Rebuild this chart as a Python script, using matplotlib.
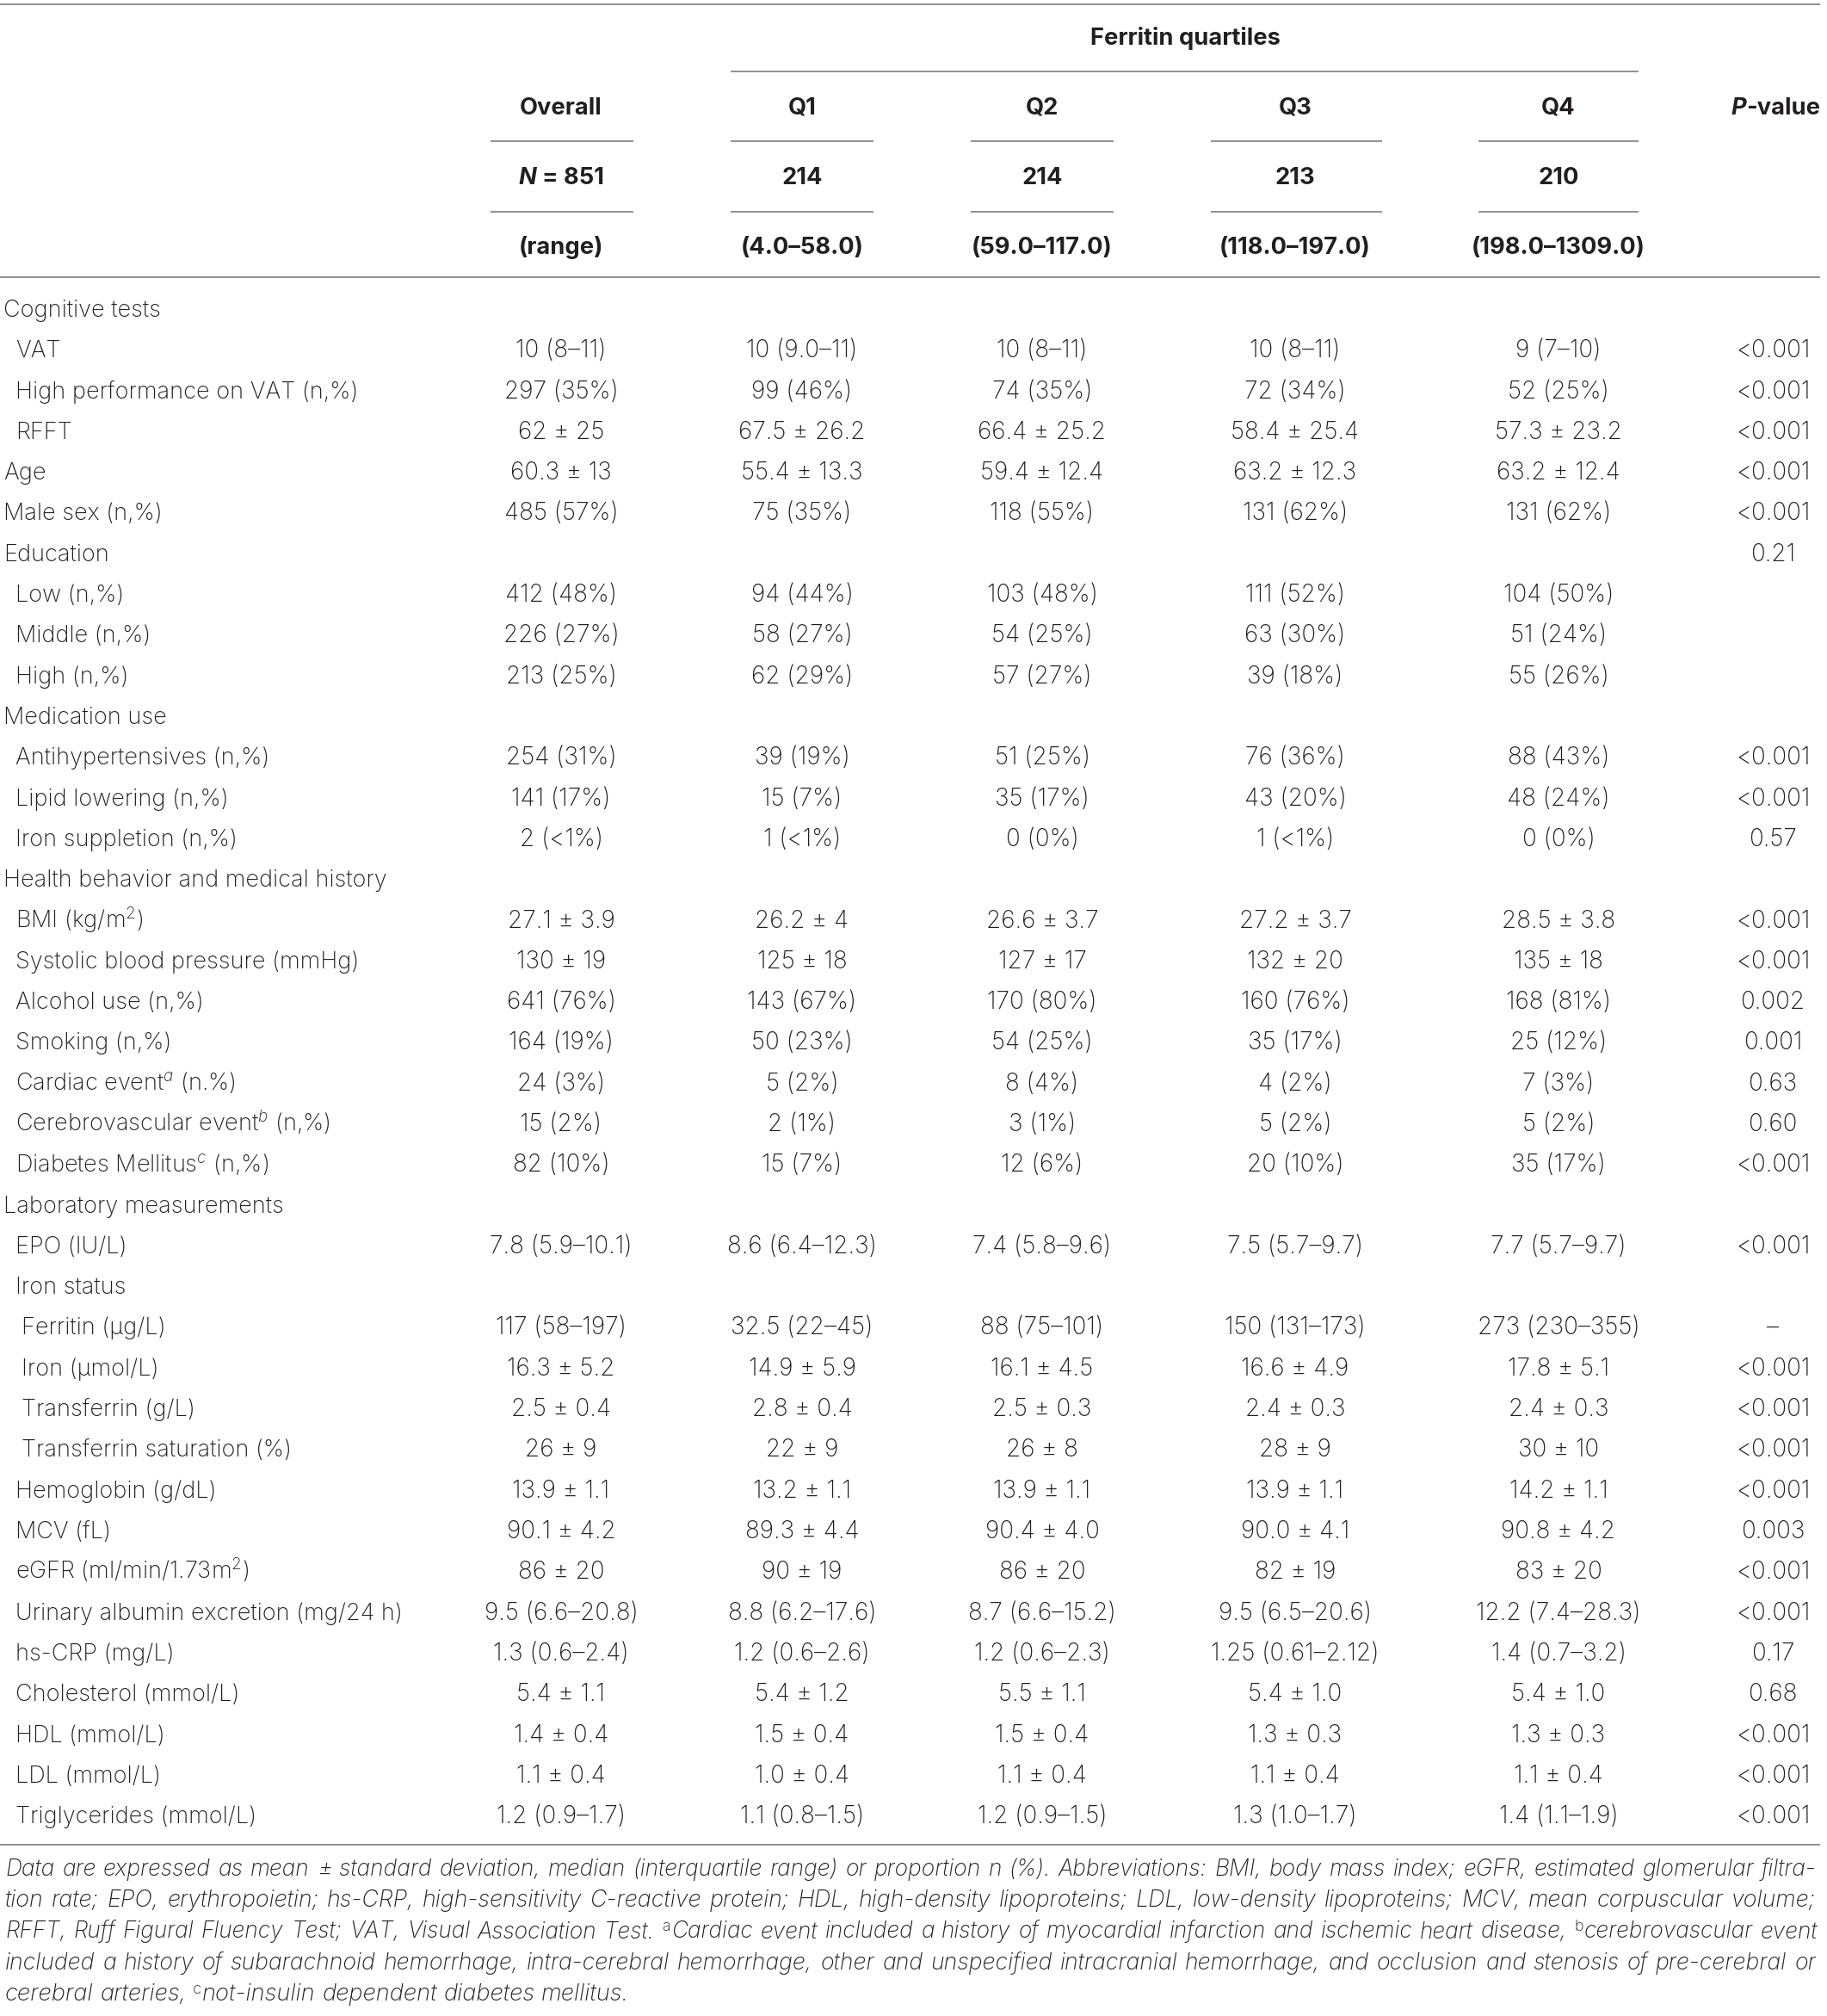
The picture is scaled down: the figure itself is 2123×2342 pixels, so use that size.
import matplotlib
matplotlib.use("Agg")
import matplotlib.pyplot as plt

# ---------------- data ----------------
col_names = ["Overall", "Q1", "Q2", "Q3", "Q4"]
col_counts = ["851", "214", "214", "213", "210"]
col_ranges = ["(range)", "(4.0–58.0)", "(59.0–117.0)", "(118.0–197.0)", "(198.0–1309.0)"]

row_labels = [
    "Cognitive tests", "VAT", "High performance on VAT (n,%)", "RFFT", "Age",
    "Male sex (n,%)", "Education", "Low (n,%)", "Middle (n,%)", "High (n,%)",
    "Medication use", "Antihypertensives (n,%)", "Lipid lowering (n,%)",
    "Iron suppletion (n,%)", "Health behavior and medical history",
    "BMI (kg/m$^2$)", "Systolic blood pressure (mmHg)", "Alcohol use (n,%)",
    "Smoking (n,%)", "Cardiac event$^{a}$ (n.%)", "Cerebrovascular event$^{b}$ (n,%)",
    "Diabetes Mellitus$^{c}$ (n,%)", "Laboratory measurements", "EPO (IU/L)",
    "Iron status", "Ferritin (μg/L)", "Iron (μmol/L)", "Transferrin (g/L)",
    "Transferrin saturation (%)", "Hemoglobin (g/dL)", "MCV (fL)",
    "eGFR (ml/min/1.73m$^2$)", "Urinary albumin excretion (mg/24 h)",
    "hs-CRP (mg/L)", "Cholesterol (mmol/L)", "HDL (mmol/L)", "LDL (mmol/L)",
    "Triglycerides (mmol/L)",
]
row_levels = [0, 1, 1, 1, 0, 0, 0, 1, 1, 1, 0, 1, 1, 1, 0, 1, 1, 1, 1, 1, 1, 1,
              0, 1, 1, 2, 2, 2, 2, 1, 1, 1, 1, 1, 1, 1, 1, 1]

overall = ["", "10 (8–11)", "297 (35%)", "62 ± 25", "60.3 ± 13", "485 (57%)", "",
           "412 (48%)", "226 (27%)", "213 (25%)", "", "254 (31%)", "141 (17%)",
           "2 (<1%)", "", "27.1 ± 3.9", "130 ± 19", "641 (76%)", "164 (19%)",
           "24 (3%)", "15 (2%)", "82 (10%)", "", "7.8 (5.9–10.1)", "",
           "117 (58–197)", "16.3 ± 5.2", "2.5 ± 0.4", "26 ± 9", "13.9 ± 1.1",
           "90.1 ± 4.2", "86 ± 20", "9.5 (6.6–20.8)", "1.3 (0.6–2.4)",
           "5.4 ± 1.1", "1.4 ± 0.4", "1.1 ± 0.4", "1.2 (0.9–1.7)"]
q1 = ["", "10 (9.0–11)", "99 (46%)", "67.5 ± 26.2", "55.4 ± 13.3", "75 (35%)", "",
      "94 (44%)", "58 (27%)", "62 (29%)", "", "39 (19%)", "15 (7%)", "1 (<1%)", "",
      "26.2 ± 4", "125 ± 18", "143 (67%)", "50 (23%)", "5 (2%)", "2 (1%)",
      "15 (7%)", "", "8.6 (6.4–12.3)", "", "32.5 (22–45)", "14.9 ± 5.9",
      "2.8 ± 0.4", "22 ± 9", "13.2 ± 1.1", "89.3 ± 4.4", "90 ± 19",
      "8.8 (6.2–17.6)", "1.2 (0.6–2.6)", "5.4 ± 1.2", "1.5 ± 0.4", "1.0 ± 0.4",
      "1.1 (0.8–1.5)"]
q2 = ["", "10 (8–11)", "74 (35%)", "66.4 ± 25.2", "59.4 ± 12.4", "118 (55%)", "",
      "103 (48%)", "54 (25%)", "57 (27%)", "", "51 (25%)", "35 (17%)", "0 (0%)", "",
      "26.6 ± 3.7", "127 ± 17", "170 (80%)", "54 (25%)", "8 (4%)", "3 (1%)",
      "12 (6%)", "", "7.4 (5.8–9.6)", "", "88 (75–101)", "16.1 ± 4.5",
      "2.5 ± 0.3", "26 ± 8", "13.9 ± 1.1", "90.4 ± 4.0", "86 ± 20",
      "8.7 (6.6–15.2)", "1.2 (0.6–2.3)", "5.5 ± 1.1", "1.5 ± 0.4", "1.1 ± 0.4",
      "1.2 (0.9–1.5)"]
q3 = ["", "10 (8–11)", "72 (34%)", "58.4 ± 25.4", "63.2 ± 12.3", "131 (62%)", "",
      "111 (52%)", "63 (30%)", "39 (18%)", "", "76 (36%)", "43 (20%)", "1 (<1%)", "",
      "27.2 ± 3.7", "132 ± 20", "160 (76%)", "35 (17%)", "4 (2%)", "5 (2%)",
      "20 (10%)", "", "7.5 (5.7–9.7)", "", "150 (131–173)", "16.6 ± 4.9",
      "2.4 ± 0.3", "28 ± 9", "13.9 ± 1.1", "90.0 ± 4.1", "82 ± 19",
      "9.5 (6.5–20.6)", "1.25 (0.61–2.12)", "5.4 ± 1.0", "1.3 ± 0.3", "1.1 ± 0.4",
      "1.3 (1.0–1.7)"]
q4 = ["", "9 (7–10)", "52 (25%)", "57.3 ± 23.2", "63.2 ± 12.4", "131 (62%)", "",
      "104 (50%)", "51 (24%)", "55 (26%)", "", "88 (43%)", "48 (24%)", "0 (0%)", "",
      "28.5 ± 3.8", "135 ± 18", "168 (81%)", "25 (12%)", "7 (3%)", "5 (2%)",
      "35 (17%)", "", "7.7 (5.7–9.7)", "", "273 (230–355)", "17.8 ± 5.1",
      "2.4 ± 0.3", "30 ± 10", "14.2 ± 1.1", "90.8 ± 4.2", "83 ± 20",
      "12.2 (7.4–28.3)", "1.4 (0.7–3.2)", "5.4 ± 1.0", "1.3 ± 0.3", "1.1 ± 0.4",
      "1.4 (1.1–1.9)"]
pvalues = ["", "<0.001", "<0.001", "<0.001", "<0.001", "<0.001", "0.21", "", "", "",
           "", "<0.001", "<0.001", "0.57", "", "<0.001", "<0.001", "0.002", "0.001",
           "0.63", "0.60", "<0.001", "", "<0.001", "", "–", "<0.001", "<0.001",
           "<0.001", "<0.001", "0.003", "<0.001", "<0.001", "0.17", "0.68",
           "<0.001", "<0.001", "<0.001"]

footnote_lines = [
    "Data are expressed as mean ± standard deviation, median (interquartile range) or proportion n (%). Abbreviations: BMI, body mass index; eGFR, estimated glomerular filtra-",
    "tion rate; EPO, erythropoietin; hs-CRP, high-sensitivity C-reactive protein; HDL, high-density lipoproteins; LDL, low-density lipoproteins; MCV, mean corpuscular volume;",
    "RFFT, Ruff Figural Fluency Test; VAT, Visual Association Test. {a}Cardiac event included a history of myocardial infarction and ischemic heart disease, {b}cerebrovascular event",
    "included a history of subarachnoid hemorrhage, intra-cerebral hemorrhage, other and unspecified intracranial hemorrhage, and occlusion and stenosis of pre-cerebral or",
    "cerebral arteries, {c}not-insulin dependent diabetes mellitus.",
]

# ---------------- styling ----------------
W, H, DPI = 2123, 2342, 100
FAMILY = ['Inter', 'DejaVu Sans']
plt.rcParams['font.family'] = FAMILY
plt.rcParams['mathtext.fontset'] = 'custom'
plt.rcParams['mathtext.rm'] = 'Inter:light'
plt.rcParams['mathtext.it'] = 'Inter:italic:light'
plt.rcParams['mathtext.bf'] = 'Inter:bold'

TEXT = '#231f20'
RULE = '#7d7d7d'
LW = 1.2

col_x = [652, 932, 1211, 1505, 1811]
p_x = 2060
p_head_x = 2063
underline_span = [(570, 736), (849, 1015), (1128, 1294), (1407, 1606), (1718, 1904)]
indent = {0: 4, 1: 18, 2: 25}
row0, row_step, cap_off = 358, 47.3, 10

fig = plt.figure(figsize=(W / DPI, H / DPI), dpi=DPI)
ax = fig.add_axes([0, 0, 1, 1])
ax.set_xlim(0, W)
ax.set_ylim(H, 0)
ax.axis('off')
renderer = fig.canvas.get_renderer()

LIGHT = dict(fontweight='light', color=TEXT)
BOLDW = dict(fontweight='bold', color=TEXT)


def wid(t):
    return t.get_window_extent(renderer).width


def fit_size(samples, kw, base=20.0):
    # samples: list of (string, width in px measured on the reference)
    got = 0.0
    want = 0.0
    for s, target in samples:
        t = ax.text(0, 0, s, fontsize=base, **kw)
        got += wid(t)
        want += target
        t.remove()
    return base * want / got


FS_LABEL = fit_size([("Health behavior and medical history", 446),
                     ("Systolic blood pressure (mmHg)", 397),
                     ("Alcohol use (n,%)", 215),
                     ("Laboratory measurements", 328),
                     ("Transferrin saturation (%)", 308)], LIGHT)
FS_VAL = fit_size([("57.3 ± 23.2", 151), ("12.2 (7.4–28.3)", 188),
                   ("273 (230–355)", 182), ("<0.001", 87), ("30 ± 10", 103),
                   ("52 (25%)", 111), ("131 (62%)", 127)], LIGHT)
FS_HEAD = fit_size([("(198.0–1309.0)", 196), ("Ferritin quartiles", 226),
                    ("Overall", 96), ("(118.0–197.0)", 176)], BOLDW)

LABEL = dict(fontsize=FS_LABEL, **LIGHT)
VAL = dict(fontsize=FS_VAL, **LIGHT)
BOLD = dict(fontsize=FS_HEAD, **BOLDW)
BOLDIT = dict(fontsize=FS_HEAD, fontstyle='italic', **BOLDW)


def space_width(kw):
    a = ax.text(0, 0, "a a", **kw)
    b = ax.text(0, 0, "aa", **kw)
    s = wid(a) - wid(b)
    a.remove(); b.remove()
    return s


def runs(x, y, parts, ha='center'):
    objs = [ax.text(0, y, s, va='baseline', ha='left', **kw) for s, kw in parts]
    ws = [wid(o) for o in objs]
    start = x - sum(ws) / 2 if ha == 'center' else x
    for o, w in zip(objs, ws):
        o.set_x(start)
        start += w


def hline(y, x0, x1):
    ax.plot([x0, x1], [y, y], color=RULE, lw=LW, solid_capstyle='butt')


# ---------------- header ----------------
hline(5, 0, 2115)
ax.text(1377, 52, "Ferritin quartiles", ha='center', va='baseline', **BOLD)
hline(83, 849, 1904)
for x, name, n, rng, (u0, u1) in zip(col_x, col_names, col_counts, col_ranges, underline_span):
    ax.text(x, 133, name, ha='center', va='baseline', **BOLD)
    hline(164, u0, u1)
    if name == "Overall":
        sp = space_width(BOLD)
        a = ax.text(0, 214, "N", va='baseline', ha='left', **BOLDIT)
        b = ax.text(0, 214, "= " + n, va='baseline', ha='left', **BOLD)
        wa, wb = wid(a), wid(b)
        start = x - (wa + sp + wb) / 2
        a.set_x(start)
        b.set_x(start + wa + sp)
    else:
        ax.text(x, 214, n, ha='center', va='baseline', **BOLD)
    hline(246, u0, u1)
    ax.text(x, 295, rng, ha='center', va='baseline', **BOLD)
runs(p_head_x, 133, [("P", BOLDIT), ("-value", BOLD)])
hline(322, 0, 2115)

# ---------------- body ----------------
columns = [overall, q1, q2, q3, q4]
for i, (lab, lev) in enumerate(zip(row_labels, row_levels)):
    yb = row0 + i * row_step + cap_off
    ax.text(indent[lev], yb, lab, ha='left', va='baseline', **LABEL)
    for x, col in zip(col_x, columns):
        if col[i]:
            ax.text(x, yb, col[i], ha='center', va='baseline', **VAL)
    if pvalues[i]:
        ax.text(p_x, yb, pvalues[i], ha='center', va='baseline', **VAL)

hline(2143, 0, 2115)

# ---------------- footnote (justified) ----------------
x0, x1 = 6, 2110


def note_styles(fs):
    note = dict(fontsize=fs, fontweight='light', fontstyle='italic', color=TEXT)
    sup = dict(fontsize=fs * 0.68, fontweight='light', color=TEXT)
    return note, sup


def build_line(line, yb, note, sup):
    items = []
    for w in line.split(" "):
        parts = []
        if w.startswith("{") and w[2] == "}":
            parts.append(ax.text(0, yb - 0.42 * note['fontsize'], w[1],
                                 va='baseline', ha='left', **sup))
            w = w[3:]
        parts.append(ax.text(0, yb, w, va='baseline', ha='left', **note))
        items.append(parts)
    return items


def natural_width(line, fs):
    note, sup = note_styles(fs)
    sp = space_width(note)
    items = build_line(line, 0, note, sup)
    tot = sum(wid(p) for parts in items for p in parts) + sp * (len(items) - 1)
    for parts in items:
        for p in parts:
            p.remove()
    return tot


# base footnote size: the last (unjustified) line is ~725 px wide in the reference
FS_NOTE = 18.0 * 725 / natural_width(footnote_lines[-1], 18.0)
note_base, note_step = 2179, 36.2
limit = (x1 - x0) * 0.985
for li, line in enumerate(footnote_lines):
    last = li == len(footnote_lines) - 1
    fs = FS_NOTE
    if not last:
        nw = natural_width(line, fs)
        if nw > limit:
            fs = fs * limit / nw
    note, sup = note_styles(fs)
    sp_note = space_width(note)
    yb = note_base + li * note_step
    items = build_line(line, yb, note, sup)
    widths = [[wid(p) for p in parts] for parts in items]
    total = sum(sum(ws) for ws in widths)
    gap = sp_note if last else (x1 - x0 - total) / (len(items) - 1)
    xc = x0
    for parts, ws in zip(items, widths):
        for k, (p, w) in enumerate(zip(parts, ws)):
            p.set_x(xc)
            xc += w + (1.0 if len(parts) > 1 and k == 0 else 0)
        xc += gap

fig.savefig("out.png", dpi=DPI, facecolor='white')
